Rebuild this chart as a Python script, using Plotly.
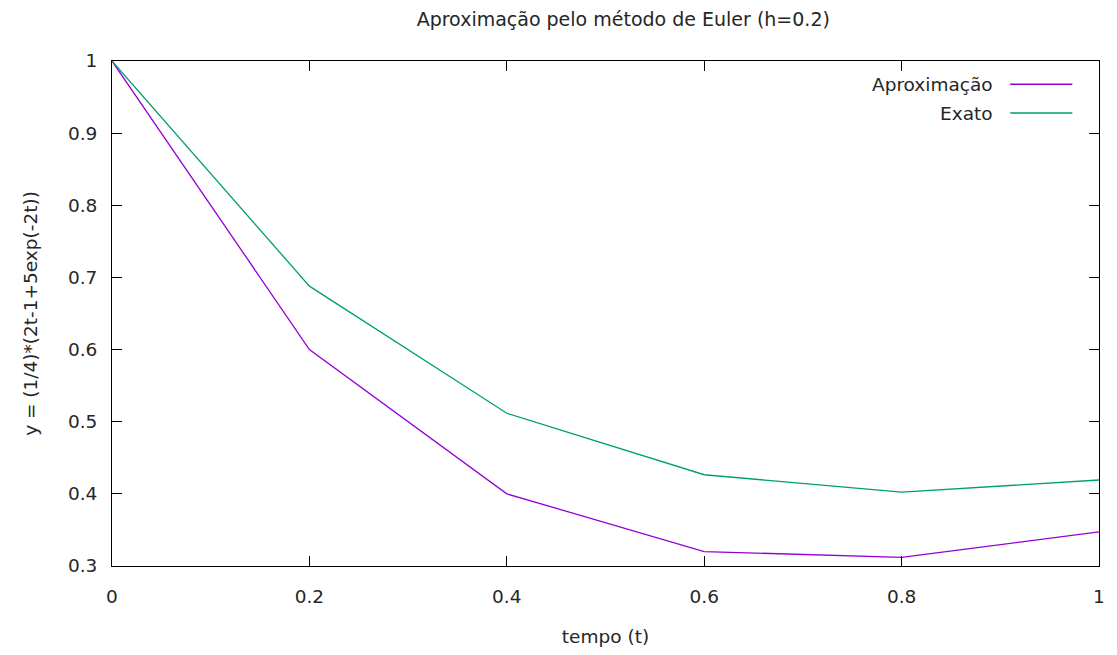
import plotly.graph_objects as go

# Euler approximation vs. exact solution, step h = 0.2
t = [0.0, 0.2, 0.4, 0.6, 0.8, 1.0]
y_aprox = [1.0, 0.6, 0.4, 0.32, 0.312, 0.3472]
y_exato = [1.0, 0.6879, 0.5117, 0.4265, 0.4024, 0.4192]

x_ticks = [0, 0.2, 0.4, 0.6, 0.8, 1]
x_labels = ["0", "0.2", "0.4", "0.6", "0.8", "1"]
y_ticks = [0.3, 0.4, 0.5, 0.6, 0.7, 0.8, 0.9, 1.0]
y_labels = ["0.3", "0.4", "0.5", "0.6", "0.7", "0.8", "0.9", "1"]

series_names = ["Aproximação", "Exato"]
colors = ["#9400d3", "#009e73"]

FONT = "DejaVu Sans"
FSIZE = 18.5
TXT = "#262626"

fig = go.Figure()
fig.add_trace(go.Scatter(x=t, y=y_aprox, mode="lines", name=series_names[0],
                         line=dict(color=colors[0], width=1.3), showlegend=False))
fig.add_trace(go.Scatter(x=t, y=y_exato, mode="lines", name=series_names[1],
                         line=dict(color=colors[1], width=1.3), showlegend=False))

axis_common = dict(
    showgrid=False, zeroline=False, showline=True, linecolor="black", linewidth=1,
    mirror="ticks", ticks="inside", ticklen=10, tickcolor="black", tickwidth=1,
    tickfont=dict(family=FONT, size=FSIZE, color=TXT),
)
fig.update_xaxes(range=[0, 1], tickvals=x_ticks, ticktext=x_labels,
                 title=dict(text="tempo (t)", font=dict(family=FONT, size=FSIZE, color=TXT), standoff=23),
                 ticklabelstandoff=14, **axis_common)
fig.update_yaxes(range=[0.3, 1.0], tickvals=y_ticks, ticktext=y_labels,
                 title=dict(text="y = (1/4)*(2t-1+5exp(-2t))", font=dict(family=FONT, size=FSIZE, color=TXT), standoff=25),
                 ticklabelstandoff=10, **axis_common)

# Key drawn in gnuplot style: label on the left, sample line on the right
key_rows = [0.954, 0.897]
for name, color, yk in zip(series_names, colors, key_rows):
    fig.add_annotation(x=0.8945, y=yk, xref="paper", yref="paper", text=name,
                       showarrow=False, xanchor="right", yanchor="middle",
                       font=dict(family=FONT, size=FSIZE, color=TXT))
    fig.add_shape(type="line", xref="paper", yref="paper", x0=0.91, x1=0.973,
                  y0=yk, y1=yk, line=dict(color=color, width=1.3))

fig.update_layout(
    width=1117, height=655,
    margin=dict(l=112, r=15, t=61, b=89),
    paper_bgcolor="white", plot_bgcolor="white",
    title=dict(text="Aproximação pelo método de Euler (h=0.2)", x=0.558, xanchor="center",
               y=0.97, yanchor="middle", font=dict(family=FONT, size=19, color=TXT)),
)

fig.write_html("out.html")
